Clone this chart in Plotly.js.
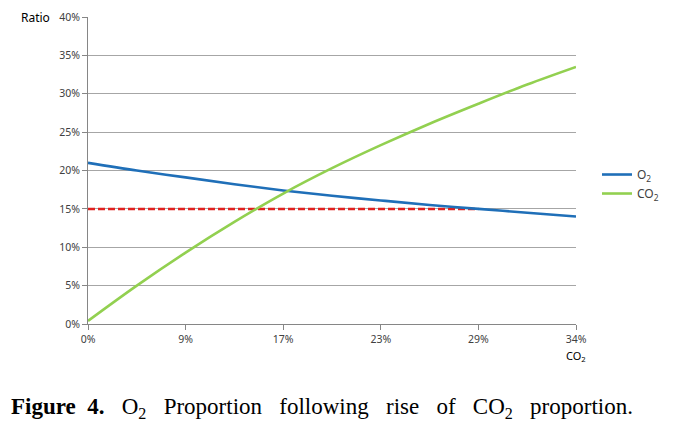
<!DOCTYPE html>
<html>
<head>
<meta charset="utf-8">
<script src="https://cdn.plot.ly/plotly-3.0.1.min.js"></script>
<style>html,body{margin:0;padding:0;background:#fff;}#chart{width:677px;height:426px;}</style>
</head>
<body>
<div id="chart"></div>
<script>
// category positions (evenly spaced on the chart) and their labels
var xIndex = [0, 0.5, 1, 1.5, 2, 2.5, 3, 3.5, 4, 4.5, 5];
var tickPositions = [0, 1, 2, 3, 4, 5];
var tickLabels = ["0%", "9%", "17%", "23%", "29%", "34%"];
var yTickVals = [0, 5, 10, 15, 20, 25, 30, 35, 40];
var yTickLabels = ["0%", "5%", "10%", "15%", "20%", "25%", "30%", "35%", "40%"];
// series values (percent)
var o2Values = [21.0, 20.0, 19.1, 18.2, 17.4, 16.7, 16.1, 15.5, 15.0, 14.5, 14.0];
var co2Values = [0.4, 5.0, 9.3, 13.3, 17.0, 20.3, 23.3, 26.1, 28.7, 31.2, 33.5];
var thresholdX = [0, 4];
var thresholdY = [15, 15];

var traces = [
  {x: thresholdX, y: thresholdY, mode: 'lines', showlegend: false, hoverinfo: 'skip',
   line: {color: '#e0201e', width: 2.5, dash: '7px,3px'}},
  {x: xIndex, y: o2Values, mode: 'lines', name: 'O<sub>2</sub>',
   line: {color: '#1f6fb8', width: 2.6, shape: 'spline'}},
  {x: xIndex, y: co2Values, mode: 'lines', name: 'CO<sub>2</sub>',
   line: {color: '#92d050', width: 2.6, shape: 'spline'}}
];

var axisFont = {family: 'Noto Sans, DejaVu Sans, sans-serif', size: 10.5, color: '#404040'};
var sp = '&#160;&#160;&#160;';

var layout = {
  width: 677, height: 426,
  margin: {l: 88, r: 101, t: 17, b: 102},
  paper_bgcolor: '#ffffff', plot_bgcolor: '#ffffff',
  showlegend: true,
  legend: {x: 1.043, y: 0.456, xanchor: 'left', yanchor: 'middle',
           font: {family: 'Noto Sans, DejaVu Sans, sans-serif', size: 12, color: '#404040'},
           itemwidth: 30, traceorder: 'normal'},
  xaxis: {range: [0, 5], tickvals: tickPositions, ticktext: tickLabels,
          showgrid: false, zeroline: false, showline: true, linecolor: '#868686', linewidth: 1,
          ticks: 'outside', ticklen: 5, tickcolor: '#868686', tickfont: axisFont, fixedrange: true},
  yaxis: {range: [0, 40], tickvals: yTickVals, ticktext: yTickLabels,
          showgrid: true, gridcolor: '#a6a6a6', gridwidth: 1, zeroline: false,
          showline: true, linecolor: '#868686', linewidth: 1,
          ticks: 'outside', ticklen: 5, tickcolor: '#868686', tickfont: axisFont, fixedrange: true},
  annotations: [
    {text: 'Ratio', xref: 'paper', yref: 'paper', x: -0.073, y: 1.0, xanchor: 'right', yanchor: 'middle',
     showarrow: false, font: {family: 'Noto Sans, DejaVu Sans, sans-serif', size: 12, color: '#000000'}},
    {text: 'CO<sub>2</sub>', xref: 'paper', yref: 'paper', x: 1.0, y: -0.105, xanchor: 'center', yanchor: 'middle',
     showarrow: false, font: {family: 'Noto Sans, DejaVu Sans, sans-serif', size: 11, color: '#000000'}},
    {text: '<b>Figure' + '&#160;&#160;' + '4.</b>' + sp + 'O<sub>2</sub>' + sp + 'Proportion' + sp + 'following' + sp + 'rise' + sp + 'of' + sp + 'CO<sub>2</sub>' + sp + 'proportion.',
     xref: 'paper', yref: 'paper', x: -0.162, y: -0.272, xanchor: 'left', yanchor: 'middle',
     showarrow: false, font: {family: 'Liberation Serif, Times New Roman, serif', size: 23, color: '#000000'}}
  ]
};

Plotly.newPlot('chart', traces, layout, {displayModeBar: false, staticPlot: true});
</script>
</body>
</html>
